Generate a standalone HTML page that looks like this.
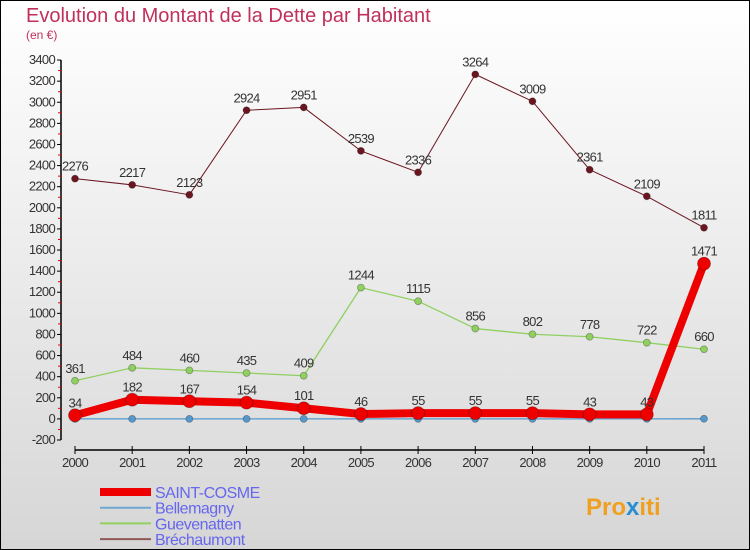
<!DOCTYPE html>
<html><head><meta charset="utf-8"><style>
body{margin:0}
#c{width:750px;height:550px;position:relative;overflow:hidden}
svg text{font-family:"Liberation Sans",sans-serif}
</style></head><body>
<div id="c">
<svg id="s" width="750" height="550" xmlns="http://www.w3.org/2000/svg">
<defs><linearGradient id="bg" x1="0" y1="0" x2="0" y2="1"><stop offset="0" stop-color="#ffffff"/><stop offset="1" stop-color="#d6d6d6"/></linearGradient></defs>
<rect x="0.5" y="0.5" width="749" height="549" fill="url(#bg)" stroke="#000"/>
<text x="26" y="22" font-size="20" fill="#c0305a">Evolution du Montant de la Dette par Habitant</text>
<text x="26" y="39" font-size="12" fill="#c0305a">(en €)</text>
<g id="g"></g>
<text x="586" y="515" font-size="24" font-weight="bold" fill="#f0a020">Pro<tspan fill="#2a8fd0">x</tspan>iti</text>
</svg>
</div>
<script>
const years=["2000","2001","2002","2003","2004","2005","2006","2007","2008","2009","2010","2011"];
const yTicks=[-200,0,200,400,600,800,1000,1200,1400,1600,1800,2000,2200,2400,2600,2800,3000,3200,3400];
const saintCosme=[34,182,167,154,101,46,55,55,55,43,43,1471];
const bellemagny=[0,0,0,0,0,0,0,0,0,0,0,1];
const guevenatten=[361,484,460,435,409,1244,1115,856,802,778,722,660];
const brechaumont=[2276,2217,2123,2924,2951,2539,2336,3264,3009,2361,2109,1811];
const NS="http://www.w3.org/2000/svg";
const g=document.getElementById('g');
const X=i=>75+i*(704-75)/(years.length-1);
const Y=v=>418.9-v*(21.11/200);
function mk(t,a,p){const e=document.createElementNS(NS,t);for(const k in a)e.setAttribute(k,a[k]);(p||g).appendChild(e);return e;}
let ax=mk('line',{x1:61,y1:Y(3400),x2:61,y2:Y(-200),stroke:'#000','stroke-width':1.5});


yTicks.forEach((v,i)=>{
  mk('line',{x1:57,y1:Y(v),x2:61,y2:Y(v),stroke:'#000'});
  if(i<yTicks.length-1) mk('line',{x1:58,y1:Y(v+100),x2:61,y2:Y(v+100),stroke:'#e00'});
  const t=mk('text',{x:55,y:Y(v)+4,'font-size':13,fill:'#333','text-anchor':'end','letter-spacing':'-0.7'});
  t.textContent=v;
  
  
});
let xa=mk('line',{x1:X(0),y1:450,x2:X(11),y2:450,stroke:'#000','stroke-width':1.5});


years.forEach((y,i)=>{
  mk('line',{x1:X(i),y1:446,x2:X(i),y2:454,stroke:'#000'});
  const t=mk('text',{x:X(i),y:467,'font-size':13,fill:'#333','text-anchor':'middle','letter-spacing':'-0.7'});
  t.textContent=y;
  
  
});
function series(name,vals,color,w,r,labels){
  const sg=mk('g',{});
  
  
  const p=mk('polyline',{points:vals.map((v,i)=>X(i)+','+Y(v)).join(' '),fill:'none',stroke:color,'stroke-width':w,'stroke-linejoin':'round'},sg);
  
  vals.forEach((v,i)=>{
    const c=mk('circle',{cx:X(i),cy:Y(v),r:r,fill:color,stroke:'rgba(0,0,0,0.3)','stroke-width':0.8},sg);
    
    
    if(labels){const t=mk('text',{x:X(i),y:Y(v)-8,'font-size':13,fill:'#333','text-anchor':'middle','letter-spacing':'-0.7'},sg);t.textContent=v;
      
      }
  });
}
series('brechaumont',brechaumont,'#6b1520',1,3.5,true);
series('guevenatten',guevenatten,'#8fd060',1.3,3.5,true);
series('bellemagny',bellemagny,'#5599cc',1.3,3.5,false);
series('saint-cosme',saintCosme,'#ee0000',8,6.5,true);
const leg=[['SAINT-COSME','#ee0000',8],['Bellemagny','#6fa8d0',2],['Guevenatten','#90d060',2],['Bréchaumont','#905858',2]];
leg.forEach((l,i)=>{
  const y=492+i*15.7;
  const lg=mk('g',{});
  
  
  mk('line',{x1:100,y1:y,x2:151,y2:y,stroke:l[1],'stroke-width':l[2]},lg);
  const t=mk('text',{x:155,y:y+6,'font-size':16,fill:'#6666ee','letter-spacing':'-0.5'},lg);t.textContent=l[0];
});
</script>
</body></html>
